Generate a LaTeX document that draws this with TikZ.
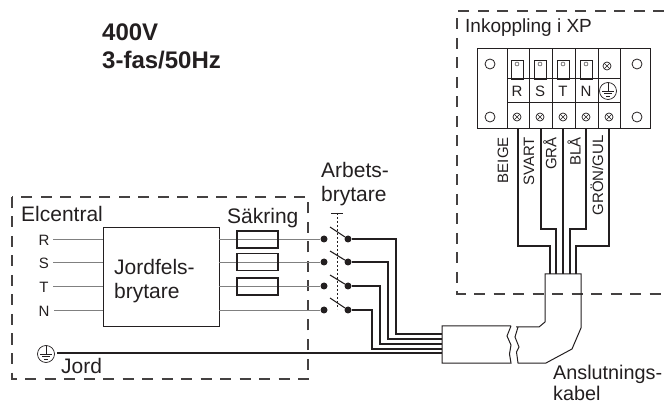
\documentclass[tikz,border=0pt]{standalone}
\usepackage{fontspec}
\setmainfont{Liberation Sans}
\usepackage{xcolor}
\usepackage{tikz}
\usetikzlibrary{
	shapes,arrows
}
\definecolor{ink}{HTML}{231F20}
\definecolor{thinline}{HTML}{808080}
\tikzset{
	txt/.style={anchor=base west,inner sep=0pt,text=ink,font=\fontsize{21}{24}\selectfont},
	small/.style={inner sep=0pt,text=ink,font=\fontsize{15}{17}\selectfont},
	dashbox/.style={draw=ink!85,line width=1.1pt,dash pattern=on 11pt off 8.5pt},
	wire/.style={draw=ink,line width=1.3pt},
	feed/.style={draw=thinline,line width=0.7pt},
	fuse/.style={draw=ink,line width=1.4pt,rectangle,minimum width=41pt,minimum height=17pt,inner sep=0pt},
	contact/.style={circle,fill=ink,inner sep=0pt,minimum size=7pt},
	hole/.style={draw=ink,circle,line width=0.8pt,inner sep=0pt,minimum size=10pt},
	tab/.style={draw=ink,line width=0.7pt,rectangle,inner sep=0pt,minimum width=12pt,minimum height=19pt},
	screw/.style={draw=ink,circle,line width=0.7pt,inner sep=0pt,minimum size=8pt,
		path picture={\draw[ink,line width=0.6pt]
			(path picture bounding box.north west) -- (path picture bounding box.south east)
			(path picture bounding box.north east) -- (path picture bounding box.south west);}},
	earth/.style={draw=ink,circle,line width=0.7pt,inner sep=0pt,minimum size=17pt,
		path picture={\draw[ink,line width=0.6pt]
			([yshift=9pt]path picture bounding box.center) -- (path picture bounding box.center)
			([xshift=-6pt]path picture bounding box.center) -- ([xshift=6pt]path picture bounding box.center)
			([xshift=-4pt,yshift=-2.5pt]path picture bounding box.center) -- ([xshift=4pt,yshift=-2.5pt]path picture bounding box.center)
			([xshift=-2pt,yshift=-5pt]path picture bounding box.center) -- ([xshift=2pt,yshift=-5pt]path picture bounding box.center);}}
}
\begin{document}
\begin{tikzpicture}[x=1pt,y=-1pt]
	\useasboundingbox (0,0) rectangle (664,403);
	%
	\node[txt,font=\fontsize{24}{28}\selectfont\bfseries] (volt) at (102,41) {400V};
	\node[txt,font=\fontsize{24}{28}\selectfont\bfseries] (phase) at (102,69) {3-fas/50Hz};
	% inkoppling
	\draw[dashbox] (664,11) -- (457,11) -- (457,294) -- (664,294);
	\node[txt,font=\fontsize{19}{22}\selectfont] (xp) at (465,33) {Inkoppling i XP};
	\draw[draw=ink,line width=1pt] (477,49) rectangle (650,129);
	\draw[draw=ink,line width=1pt]
	(507,49) -- (507,129)
	(529,49) -- (529,129)
	(552,49) -- (552,129)
	(575,49) -- (575,129)
	(598,49) -- (598,129)
	(620,49) -- (620,129)
	(507,79) -- (620,79)
	(507,103) -- (620,103);
	%
	\node[hole] (h1) at (490,64) {};
	\node[hole] (h2) at (490,117) {};
	\node[hole] (h3) at (637,64) {};
	\node[hole] (h4) at (637,117) {};
	%
	\node[tab] (tabR) at (517,69.5) {};
	\node[tab] (tabS) at (540,69.5) {};
	\node[tab] (tabT) at (563,69.5) {};
	\node[tab] (tabN) at (586,69.5) {};
	\node[draw=ink,circle,inner sep=0pt,minimum size=4pt] (pinR) at (517,64) {};
	\node[draw=ink,circle,inner sep=0pt,minimum size=4pt] (pinS) at (540,64) {};
	\node[draw=ink,circle,inner sep=0pt,minimum size=4pt] (pinT) at (563,64) {};
	\node[draw=ink,circle,inner sep=0pt,minimum size=4pt] (pinN) at (586,64) {};
	\node[screw] (scrE') at (607,66) {};
	%
	\node[small] (tR) at (517,91) {R};
	\node[small] (tS) at (540,91) {S};
	\node[small] (tT) at (563,91) {T};
	\node[small] (tN) at (586,91) {N};
	\node[earth] (tE) at (608,91) {};
	%
	\node[screw] (scrR) at (517,117) {};
	\node[screw] (scrS) at (540,117) {};
	\node[screw] (scrT) at (563,117) {};
	\node[screw] (scrN) at (586,117) {};
	\node[screw] (scrE) at (609,117) {};
	%
	\node[small,rotate=90,anchor=east] (beige) at (503,137) {BEIGE};
	\node[small,rotate=90,anchor=east] (svart) at (529,137) {SVART};
	\node[small,rotate=90,anchor=east] (gra) at (550,137) {GRÅ};
	\node[small,rotate=90,anchor=east] (bla) at (574,137) {BLÅ};
	\node[small,rotate=90,anchor=east] (gron) at (597,135) {GRÖN/GUL};
	% ledare i kabeln
	\coordinate (wR) at (518,129);
	\coordinate (wS) at (541,129);
	\coordinate (wT) at (563,129);
	\coordinate (wN) at (586,129);
	\coordinate (wE) at (609,129);
	\coordinate (kR) at (550,274);
	\coordinate (kS) at (556,274);
	\coordinate (kT) at (563,274);
	\coordinate (kN) at (570,274);
	\coordinate (kE) at (576,274);
	\draw[wire]
	(wR) -- (518,246) -- (550,246) -- (kR)
	(wS) -- (541,229) -- (556,229) -- (kS)
	(wT) -- (kT)
	(wN) -- (586,229) -- (570,229) -- (kN)
	(wE) -- (609,246) -- (576,246) -- (kE);
	% kabel
	\draw[draw=ink,line width=1pt]
	(516,327) -- (539,327) -- (545,322) -- (545,274) -- (581,274) -- (581,328) -- (572,349) -- (546,363) -- (518,363)
	-- (516.5,352) -- (519,347) -- (515,337) -- (518,327);
	\draw[draw=ink,line width=1pt]
	(511,326) -- (442,326) -- (442,363) -- (511,363) -- (509.5,354) -- (511,345) -- (507,336) -- (511,326);
	% elcentral
	\draw[dashbox] (12,197) rectangle (308,379);
	\node[txt] (elc) at (21,222) {Elcentral};
	\node[draw=ink,line width=1pt,rectangle,inner sep=0pt,minimum width=116pt,minimum height=99pt] (jfb) at (161,277.5) {};
	\node[txt] (jfb1) at (114,275) {Jordfels-};
	\node[txt] (jfb2) at (114,299) {brytare};
	\node[txt] (sak) at (227,224) {Säkring};
	\node[txt] (arb1) at (321,178) {Arbets-};
	\node[txt] (arb2) at (321,202) {brytare};
	\node[txt] (jord) at (61,373) {Jord};
	\node[txt,font=\fontsize{19.8}{24}\selectfont] (ansl1) at (553,379) {Anslutnings-};
	\node[txt,font=\fontsize{19.8}{24}\selectfont] (ansl2) at (553,400) {kabel};
	%
	\node[small] (lR) at (44,240) {R};
	\node[small] (lS) at (44,263) {S};
	\node[small] (lT) at (44,287) {T};
	\node[small] (lN) at (44,311) {N};
	\node[earth] (jE) at (46,354) {};
	%
	\coordinate (aR) at (53,239);
	\coordinate (aS) at (53,262);
	\coordinate (aT) at (53,286);
	\coordinate (aN) at (54,310);
	\coordinate (bR) at (103,239);
	\coordinate (bS) at (103,262);
	\coordinate (bT) at (103,286);
	\coordinate (bN) at (103,310);
	\coordinate (cR) at (219,239);
	\coordinate (cS) at (219,262);
	\coordinate (cT) at (219,286);
	\coordinate (cN) at (219,310);
	%
	\node[contact] (sR) at (324,239) {};
	\node[contact] (sS) at (324,262) {};
	\node[contact] (sT) at (324,286) {};
	\node[contact] (sN) at (324,310) {};
	\node[contact] (sR') at (348,239) {};
	\node[contact] (sS') at (348,262) {};
	\node[contact] (sT') at (348,286) {};
	\node[contact] (sN') at (348,310) {};
	%
	\path[feed]
	(aR) edge (bR)
	(aS) edge (bS)
	(aT) edge (bT)
	(aN) edge (bN)
	(cR) edge (sR)
	(cS) edge (sS)
	(cT) edge (sT)
	(cN) edge (sN);
	%
	\node[fuse] (f1) at (257.5,239.5) {};
	\node[fuse] (f2) at (257.5,262) {};
	\node[fuse] (f3) at (257.5,286.5) {};
	% brytare
	\coordinate (oR) at (330,227);
	\coordinate (oS) at (330,251);
	\coordinate (oT) at (330,275);
	\coordinate (oN) at (330,298);
	\path[draw=ink,line width=1.1pt]
	(oR) edge (sR')
	(oS) edge (sS')
	(oT) edge (sT')
	(oN) edge (sN');
	\coordinate (linkT) at (337,213);
	\coordinate (linkB) at (337,309);
	\coordinate (barL) at (331,213);
	\coordinate (barR) at (343,213);
	\draw[draw=ink,line width=0.9pt,dash pattern=on 2pt off 2pt] (linkT) -- (linkB);
	\draw[draw=ink,line width=0.9pt] (barL) -- (barR);
	% till kabeln
	\coordinate (eR) at (442,334);
	\coordinate (eS) at (442,339);
	\coordinate (eT) at (442,344);
	\coordinate (eN) at (442,349);
	\coordinate (eE) at (442,353);
	\coordinate (jW) at (57,353);
	\draw[wire]
	(sR') -| (396,334) -- (eR)
	(sS') -| (388,339) -- (eS)
	(sT') -| (380,344) -- (eT)
	(sN') -| (372,349) -- (eN)
	(jW) -- (eE);
\end{tikzpicture}
\end{document}
